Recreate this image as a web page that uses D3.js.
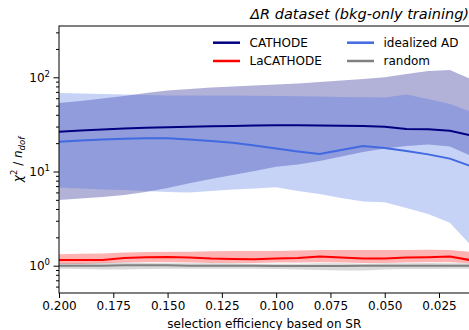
<!DOCTYPE html>
<html>
<head>
<meta charset="utf-8">
<script src="https://cdn.jsdelivr.net/npm/d3@7"></script>
<style>
  html, body { margin: 0; padding: 0; background: #fff; }
  svg { display: block; font-family: "DejaVu Sans", sans-serif; }
</style>
</head>
<body>
<svg id="chart" width="469" height="330"></svg>
<script>
// Selection efficiency on the signal region (x axis, runs right-to-left)
const effSR = [0.20, 0.19, 0.18, 0.17, 0.16, 0.15, 0.14, 0.13, 0.12, 0.11,
               0.10, 0.09, 0.08, 0.07, 0.06, 0.05, 0.04, 0.03, 0.02, 0.01];

// chi2 / ndof : mean and band (low / high) per method
const cathodeMean = [26.5, 27.2, 27.9, 28.6, 29.1, 29.5, 29.9, 30.3, 30.5, 30.8,
                     30.9, 30.9, 30.8, 30.6, 30.4, 29.9, 28.3, 28.1, 27.1, 24.1];
const cathodeLow  = [4.98, 5.17, 5.36, 5.63, 6.06, 6.68, 7.49, 8.32, 9.18, 10.1,
                     11.2, 11.9, 12.9, 14.4, 16.1, 17.5, 18.7, 19.4, 18.4, 14.6];
const cathodeHigh = [53.4, 56.0, 59.6, 63.3, 68.1, 72.4, 75.1, 77.9, 79.8, 81.8,
                     83.9, 86.0, 89.2, 92.5, 95.9, 100, 108.4, 116.7, 119.6, 94.8];

const lacathodeMean = [1.15, 1.15, 1.15, 1.21, 1.23, 1.24, 1.22, 1.19, 1.18, 1.17,
                       1.19, 1.21, 1.25, 1.22, 1.19, 1.19, 1.22, 1.23, 1.25, 1.14];
const lacathodeLow  = [1.04, 1.04, 1.06, 1.08, 1.09, 1.09, 1.08, 1.07, 1.07, 1.07,
                       1.08, 1.08, 1.09, 1.08, 1.07, 1.07, 1.08, 1.09, 1.09, 1.06];
const lacathodeHigh = [1.32, 1.34, 1.35, 1.38, 1.40, 1.41, 1.41, 1.42, 1.43, 1.43,
                       1.43, 1.45, 1.47, 1.47, 1.47, 1.47, 1.47, 1.48, 1.47, 1.40];

const idealMean = [20.7, 21.3, 21.9, 22.3, 22.5, 22.5, 21.9, 21.1, 20.2, 18.9,
                   17.5, 16.3, 15.3, 16.9, 18.7, 17.8, 16.5, 15.2, 13.7, 11.3];
const idealLow  = [6.76, 6.60, 6.44, 6.36, 6.21, 6.06, 5.98, 6.21, 6.44, 6.60,
                   6.80, 6.21, 5.77, 5.23, 4.80, 4.71, 4.10, 3.54, 2.85, 1.62];
const idealHigh = [68.1, 67.3, 66.5, 65.7, 64.9, 64.1, 64.1, 64.1, 64.1, 63.8,
                   63.3, 62.8, 62.5, 61.8, 61.4, 61.0, 65.7, 58.8, 52.1, 42.8];

const randomMean = [1.00, 1.00, 1.00, 1.01, 1.01, 1.01, 1.00, 1.00, 1.00, 1.00,
                    0.99, 0.99, 0.99, 0.99, 1.00, 1.00, 1.00, 1.00, 1.00, 1.00];
const randomLow  = [0.93, 0.92, 0.91, 0.91, 0.92, 0.93, 0.93, 0.93, 0.93, 0.93,
                    0.92, 0.91, 0.90, 0.89, 0.89, 0.91, 0.92, 0.92, 0.93, 0.93];
const randomHigh = [1.06, 1.07, 1.08, 1.08, 1.07, 1.06, 1.06, 1.06, 1.06, 1.05,
                    1.05, 1.05, 1.06, 1.06, 1.05, 1.06, 1.06, 1.07, 1.06, 1.06];

const xTicks = [0.200, 0.175, 0.150, 0.125, 0.100, 0.075, 0.050, 0.025];
const yMajorExp = [0, 1, 2];

const seriesNames  = ["CATHODE", "LaCATHODE", "idealized AD", "random"];
const seriesColors = ["#000080", "#ff0000", "#4169e1", "#808080"];

const series = [
  { name: seriesNames[0], color: seriesColors[0], mean: cathodeMean,   low: cathodeLow,   high: cathodeHigh },
  { name: seriesNames[1], color: seriesColors[1], mean: lacathodeMean, low: lacathodeLow, high: lacathodeHigh },
  { name: seriesNames[2], color: seriesColors[2], mean: idealMean,     low: idealLow,     high: idealHigh },
  { name: seriesNames[3], color: seriesColors[3], mean: randomMean,    low: randomLow,    high: randomHigh }
];

const svg = d3.select("#chart");
const pLeft = 59, pRight = 471.6, pTop = 26, pBottom = 293;

const x = d3.scaleLinear().domain([0.2, 0.01]).range([pLeft, pRight]);
const y = d3.scaleLog().domain([0.513, 350.5]).range([pBottom, pTop]);

svg.append("defs").append("clipPath").attr("id", "plotclip")
  .append("rect").attr("x", pLeft).attr("y", pTop)
  .attr("width", pRight - pLeft).attr("height", pBottom - pTop);

const plot = svg.append("g").attr("clip-path", "url(#plotclip)");

// bands first, then the mean lines on top
series.forEach(s => {
  const area = d3.area()
    .x((d, i) => x(effSR[i]))
    .y0((d, i) => y(s.low[i]))
    .y1((d, i) => y(s.high[i]));
  plot.append("path").datum(s.mean)
    .attr("d", area)
    .attr("fill", s.color)
    .attr("fill-opacity", 0.3);
});

series.forEach(s => {
  const line = d3.line()
    .x((d, i) => x(effSR[i]))
    .y(d => y(d));
  plot.append("path").datum(s.mean)
    .attr("d", line)
    .attr("fill", "none")
    .attr("stroke", s.color)
    .attr("stroke-width", 2);
});

// x axis
const xAxis = d3.axisBottom(x).tickValues(xTicks).tickFormat(d3.format(".3f"))
  .tickSize(5).tickPadding(3.5);
const gx = svg.append("g").attr("transform", `translate(0,${pBottom})`).call(xAxis);
gx.select(".domain").remove();
gx.selectAll("text").attr("font-size", 12).attr("fill", "#000")
  .attr("font-family", "DejaVu Sans");
gx.selectAll("line").attr("stroke", "#000").attr("stroke-width", 1);

// y axis: major ticks with 10^n labels, plus minor ticks
const yMajor = yMajorExp.map(e => Math.pow(10, e));
const yMinor = y.ticks().filter(v => yMajor.every(m => Math.abs(v - m) > 1e-9));
const gy = svg.append("g").attr("transform", `translate(${pLeft},0)`);
gy.call(d3.axisLeft(y).tickValues(yMajor).tickFormat("").tickSize(5.5));
gy.call(g => g.select(".domain").remove());
const gyMinor = svg.append("g").attr("transform", `translate(${pLeft},0)`)
  .call(d3.axisLeft(y).tickValues(yMinor).tickFormat("").tickSize(3));
gyMinor.select(".domain").remove();
svg.selectAll(".tick line").attr("stroke", "#000").attr("stroke-width", 1);

yMajorExp.forEach(e => {
  const t = svg.append("text")
    .attr("x", 50).attr("y", y(Math.pow(10, e)) + 4.4)
    .attr("text-anchor", "end").attr("font-size", 12).attr("fill", "#000");
  t.append("tspan").text("10");
  t.append("tspan").attr("font-size", 8.5).attr("dy", -5).text(String(e));
});

// frame
svg.append("rect").attr("x", pLeft).attr("y", pTop)
  .attr("width", pRight - pLeft).attr("height", pBottom - pTop)
  .attr("fill", "none").attr("stroke", "#000").attr("stroke-width", 1);

// axis labels and title
svg.append("text").attr("x", (pLeft + pRight) / 2 - 1).attr("y", 327.5)
  .attr("text-anchor", "middle").attr("font-size", 12).attr("fill", "#000")
  .text("selection efficiency based on SR");

const yl = svg.append("text")
  .attr("transform", `translate(22,${(pTop + pBottom) / 2}) rotate(-90)`)
  .attr("text-anchor", "middle").attr("font-size", 12).attr("fill", "#000")
  .attr("font-style", "italic");
yl.append("tspan").text("χ");
yl.append("tspan").attr("font-size", 8.5).attr("font-style", "normal").attr("dy", -5).text("2");
yl.append("tspan").attr("dy", 5).attr("font-style", "normal").text(" / ");
yl.append("tspan").text("n");
yl.append("tspan").attr("font-size", 8.5).attr("dy", 2.5).text("dof");

svg.append("text").attr("x", 469).attr("y", 19)
  .attr("text-anchor", "end").attr("font-size", 14.5).attr("font-style", "italic")
  .attr("fill", "#000")
  .text("ΔR dataset (bkg-only training)");

// legend, two columns
const legendPos = [[213, 42.7], [213, 61], [347, 42.7], [347, 61]];
series.forEach((s, i) => {
  const [lx, ly] = legendPos[i];
  svg.append("line").attr("x1", lx).attr("x2", lx + 27).attr("y1", ly).attr("y2", ly)
    .attr("stroke", s.color).attr("stroke-width", 2.5);
  svg.append("text").attr("x", lx + 36.5).attr("y", ly + 4.4)
    .attr("font-size", 12).attr("fill", "#000").text(s.name);
});
</script>
</body>
</html>
